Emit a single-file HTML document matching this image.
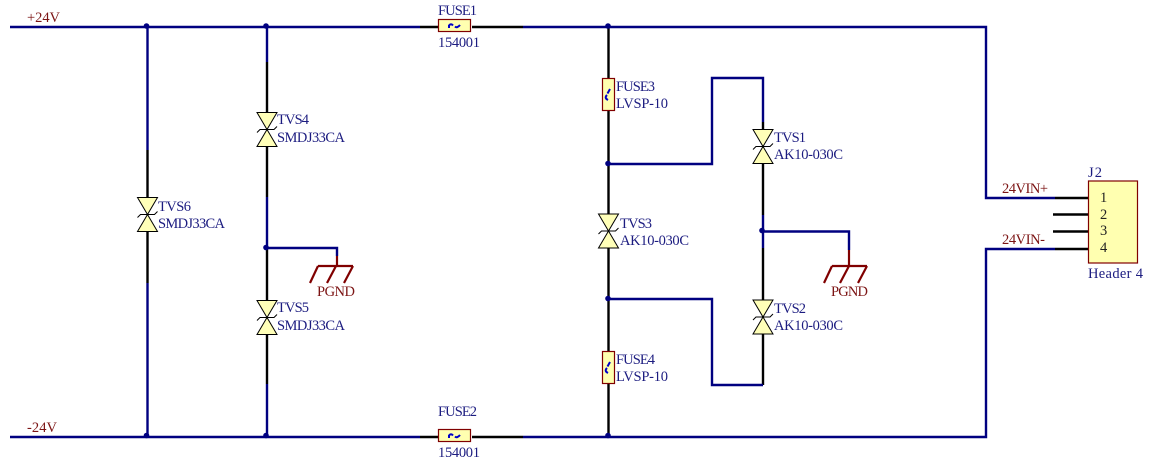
<!DOCTYPE html>
<html>
<head>
<meta charset="utf-8">
<style>
html,body{margin:0;padding:0;background:#fff;}
svg{display:block;}
text{font-family:"Liberation Serif",serif;font-size:14.5px;}
.n{fill:#1c1c80;}
.m{fill:#7c1414;}
.b{stroke:#000080;stroke-width:2.4;fill:none;}
.k{stroke:#000;stroke-width:2.4;fill:none;}
.g{stroke:#800000;stroke-width:2.2;fill:none;}
.t{fill:#ffffb8;stroke:#000;stroke-width:1;}
.f{fill:#ffffb0;stroke:#800000;stroke-width:1.2;}
.s{stroke:#0000c8;stroke-width:2;fill:none;}
.d{fill:#000080;}
</style>
</head>
<body>
<svg xmlns="http://www.w3.org/2000/svg" width="1149" height="466" viewBox="0 0 1149 466">
<rect width="1149" height="466" fill="#fff"/>

<!-- rails -->
<path class="b" d="M10 27H420"/>
<path class="k" d="M420 27H438M472 27H523"/>
<path class="b" d="M523 27H986V198H1055"/>
<path class="k" d="M1055 198H1088"/>
<path class="b" d="M10 437H420"/>
<path class="k" d="M420 437H438M472 437H523"/>
<path class="b" d="M523 437H986V249H1055"/>
<path class="k" d="M1055 249H1088M1053 214.500H1088M1053 231.500H1088"/>

<!-- left verticals -->
<path class="b" d="M147.500 27V150"/>
<path class="k" d="M147.500 150V197M147.500 232V283"/>
<path class="b" d="M147.500 283V437"/>
<path class="b" d="M267 27V62"/>
<path class="k" d="M267 62V113M267 146V197"/>
<path class="b" d="M267 197V248"/>
<path class="k" d="M267 248V301M267 334V384"/>
<path class="b" d="M267 384V437"/>
<path class="b" d="M267 248H337V256"/>

<!-- mid vertical -->
<path class="k" d="M608.500 27V78M608.500 110V214M608.500 248V351M608.500 383V437"/>
<path class="b" d="M608.500 164H712V78H763V122"/>
<path class="k" d="M763 122V129M763 164V215"/>
<path class="b" d="M763 215V248"/>
<path class="k" d="M763 248V300M763 334V385"/>
<path class="b" d="M763 385H712V299H608.500"/>
<path class="b" d="M763 231.500H849V250"/>

<!-- ground symbols -->
<path class="g" d="M337 256V266M318 266H353M318 266L310 283M336 266L327 283M353 266L344 283"/>
<path class="g" d="M849 250V266M832 266H867M832 266L824 283M849 266L840 283M867 266L858 283"/>

<!-- junctions -->
<circle class="d" cx="146.500" cy="26" r="2.800"/>
<circle class="d" cx="266" cy="26" r="2.800"/>
<circle class="d" cx="608" cy="26" r="2.800"/>
<circle class="d" cx="146.500" cy="435.500" r="2.800"/>
<circle class="d" cx="266" cy="435.500" r="2.800"/>
<circle class="d" cx="608" cy="435.500" r="2.800"/>
<circle class="d" cx="266" cy="247.500" r="2.800"/>
<circle class="d" cx="608" cy="163.500" r="2.800"/>
<circle class="d" cx="608" cy="298.500" r="2.800"/>
<circle class="d" cx="762" cy="230.500" r="2.800"/>

<!-- TVS symbols -->
<g>
<g transform="translate(147.500,214.500)"><path class="t" d="M-10 -17H10L0 0ZM-10 17H10L0 0Z"/><path d="M-10 3L-7 0H7L10 -3" fill="none" stroke="#000"/></g>
<g transform="translate(267,129.500)"><path class="t" d="M-10 -17H10L0 0ZM-10 17H10L0 0Z"/><path d="M-10 3L-7 0H7L10 -3" fill="none" stroke="#000"/></g>
<g transform="translate(267,317.500)"><path class="t" d="M-10 -17H10L0 0ZM-10 17H10L0 0Z"/><path d="M-10 3L-7 0H7L10 -3" fill="none" stroke="#000"/></g>
<g transform="translate(608.500,231)"><path class="t" d="M-10 -17H10L0 0ZM-10 17H10L0 0Z"/><path d="M-10 3L-7 0H7L10 -3" fill="none" stroke="#000"/></g>
<g transform="translate(763,146.500)"><path class="t" d="M-10 -17H10L0 0ZM-10 17H10L0 0Z"/><path d="M-10 3L-7 0H7L10 -3" fill="none" stroke="#000"/></g>
<g transform="translate(763,317)"><path class="t" d="M-10 -17H10L0 0ZM-10 17H10L0 0Z"/><path d="M-10 3L-7 0H7L10 -3" fill="none" stroke="#000"/></g>
</g>

<!-- fuses -->
<rect class="f" x="438.500" y="19.500" width="32" height="12"/>
<path class="s" d="M449 28V25.500Q451 23 453 25.500M455 26.500Q457 28.500 460 25"/>
<rect class="f" x="438.500" y="429.500" width="32" height="12"/>
<path class="s" d="M449 438V435.500Q451 433 453 435.500M455 436.500Q457 438.500 460 435"/>
<rect class="f" x="602.500" y="78.500" width="12" height="32"/>
<path class="s" d="M610 89L607.500 93.500M607 95Q604 98 608 100"/>
<rect class="f" x="602.500" y="351.500" width="12" height="32"/>
<path class="s" d="M610 362L607.500 366.500M607 368Q604 371 608 373"/>

<!-- header -->
<rect class="f" x="1088.500" y="181" width="49" height="82"/>

<!-- labels -->
<text class="m" x="27" y="22" textLength="33" lengthAdjust="spacing">+24V</text>
<text class="m" x="27" y="432" textLength="30" lengthAdjust="spacing">-24V</text>
<text class="n" x="438" y="15" textLength="39" lengthAdjust="spacing">FUSE1</text>
<text class="n" x="438" y="47" textLength="42" lengthAdjust="spacing">154001</text>
<text class="n" x="438" y="416" textLength="39" lengthAdjust="spacing">FUSE2</text>
<text class="n" x="438" y="457" textLength="42" lengthAdjust="spacing">154001</text>
<text class="n" x="616" y="91" textLength="39" lengthAdjust="spacing">FUSE3</text>
<text class="n" x="616" y="108" textLength="52" lengthAdjust="spacing">LVSP-10</text>
<text class="n" x="616" y="364" textLength="39" lengthAdjust="spacing">FUSE4</text>
<text class="n" x="616" y="381" textLength="52" lengthAdjust="spacing">LVSP-10</text>
<text class="n" x="158" y="211" textLength="33" lengthAdjust="spacing">TVS6</text>
<text class="n" x="158" y="228" textLength="67" lengthAdjust="spacing">SMDJ33CA</text>
<text class="n" x="277" y="124" textLength="32" lengthAdjust="spacing">TVS4</text>
<text class="n" x="277" y="142" textLength="68" lengthAdjust="spacing">SMDJ33CA</text>
<text class="n" x="277" y="312" textLength="32" lengthAdjust="spacing">TVS5</text>
<text class="n" x="277" y="330" textLength="68" lengthAdjust="spacing">SMDJ33CA</text>
<text class="n" x="620" y="228" textLength="32" lengthAdjust="spacing">TVS3</text>
<text class="n" x="620" y="245" textLength="69" lengthAdjust="spacing">AK10-030C</text>
<text class="n" x="774" y="142" textLength="32" lengthAdjust="spacing">TVS1</text>
<text class="n" x="774" y="159" textLength="69" lengthAdjust="spacing">AK10-030C</text>
<text class="n" x="774" y="313" textLength="32" lengthAdjust="spacing">TVS2</text>
<text class="n" x="774" y="330" textLength="69" lengthAdjust="spacing">AK10-030C</text>
<text class="m" x="317" y="296" textLength="38" lengthAdjust="spacing">PGND</text>
<text class="m" x="831" y="296" textLength="37" lengthAdjust="spacing">PGND</text>
<text class="m" x="1002" y="193" textLength="46" lengthAdjust="spacing">24VIN+</text>
<text class="m" x="1002" y="244" textLength="43" lengthAdjust="spacing">24VIN-</text>
<text class="n" x="1088" y="177" textLength="14" lengthAdjust="spacing">J2</text>
<text fill="#222" x="1100" y="202">1</text>
<text fill="#222" x="1100" y="219">2</text>
<text fill="#222" x="1100" y="235">3</text>
<text fill="#222" x="1100" y="252">4</text>
<text class="n" x="1088" y="278" textLength="55" lengthAdjust="spacing">Header 4</text>
</svg>
</body>
</html>
